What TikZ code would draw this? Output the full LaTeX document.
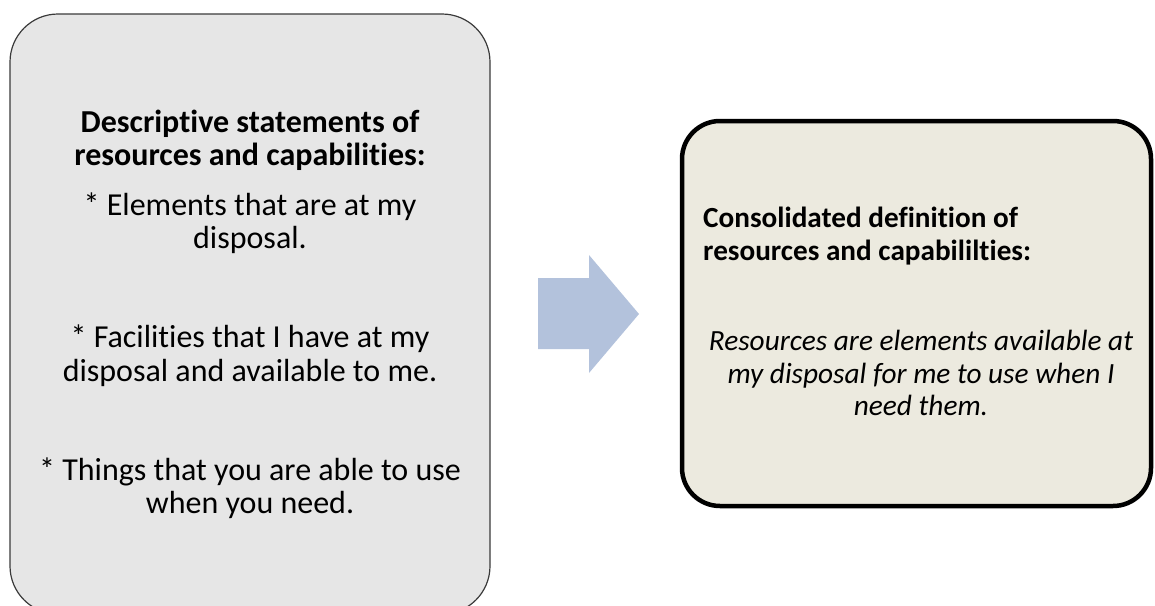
\documentclass[tikz,border=0pt]{standalone}
\usepackage{fontspec}
\setmainfont[Ligatures=NoCommon]{Carlito}
\definecolor{leftfill}{HTML}{E6E6E6}
\definecolor{leftline}{HTML}{3A3A3A}
\definecolor{rightfill}{HTML}{ECEADF}
\definecolor{arrowfill}{HTML}{B3C2DC}
\tikzset{
  leftbox/.style={draw=leftline, fill=leftfill, line width=1.2pt, rounded corners=48pt},
  rightbox/.style={draw=black, fill=rightfill, line width=4.5pt, rounded corners=38pt},
  bigarrow/.style={fill=arrowfill, draw=none},
  bodytext/.style={inner sep=0pt, anchor=base, font=\fontsize{32}{33}\selectfont},
  titletext/.style={inner sep=0pt, anchor=base, font=\fontsize{32}{33}\selectfont\bfseries},
  rtitle/.style={inner sep=0pt, anchor=base west, font=\fontsize{29.2}{33}\selectfont\bfseries},
  rbody/.style={inner sep=0pt, anchor=base, font=\fontsize{29.3}{33}\selectfont\itshape},
}
\begin{document}
\begin{tikzpicture}[x=1pt,y=-1pt]
\useasboundingbox (0,0) rectangle (1155,605);
\clip (0,0) rectangle (1155,605);
% left box
\draw[leftbox] (10,14) rectangle (490,614);
\node[titletext] (t1) at (250,132) {Descriptive statements of};
\node[titletext] (t2) at (250,165) {resources and capabilities:};
\node[bodytext] (e1) at (250,215) {* Elements that are at my};
\node[bodytext] (e2) at (250,248) {disposal.};
\node[bodytext] (f1) at (250,347) {* Facilities that I have at my};
\node[bodytext] (f2) at (250,381) {disposal and available to me.};
\node[bodytext] (g1) at (250,480) {* Things that you are able to use};
\node[bodytext] (g2) at (250,513) {when you need.};
% arrow
\fill[bigarrow] (538,278) -- (589,278) -- (589,255) -- (639,314) -- (589,373) -- (589,349) -- (538,349) -- cycle;
% right box
\draw[rightbox] (682,121) rectangle (1151,506);
\node[rtitle] (r1) at (703,227) {Consolidated definition of};
\node[rtitle] (r2) at (703,260) {resources and capabililties:};
\node[rbody] (s1) at (921,350) {Resources are elements available at};
\node[rbody] (s2) at (921,383) {my disposal for me to use when I};
\node[rbody] (s3) at (921,415) {need them.};
\end{tikzpicture}
\end{document}
